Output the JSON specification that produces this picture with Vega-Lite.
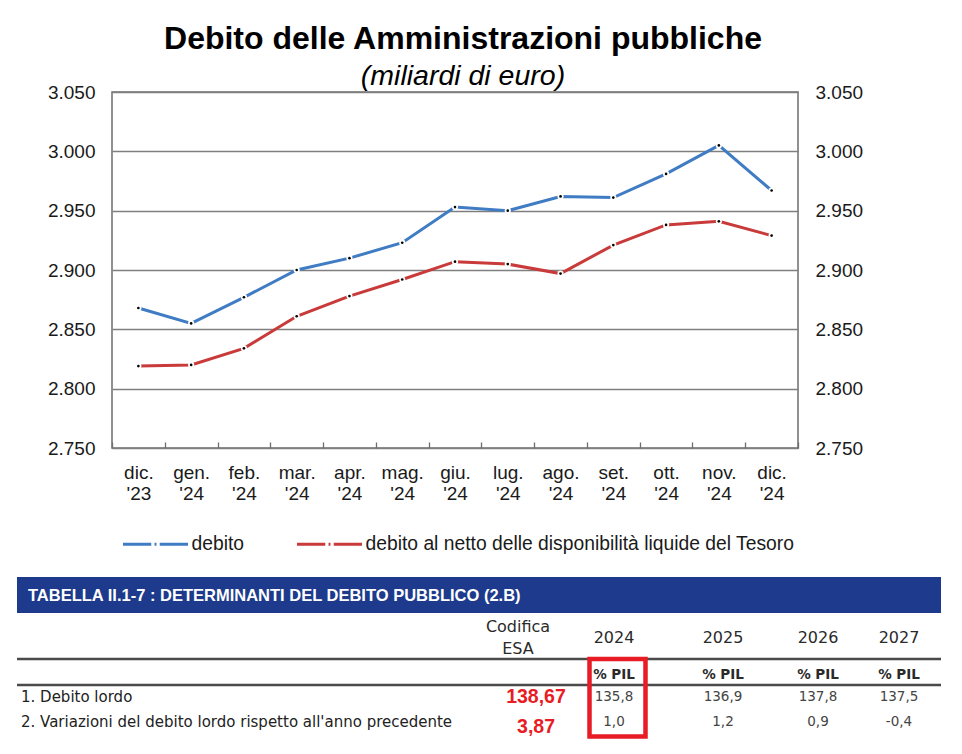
{
  "$schema": "https://vega.github.io/schema/vega-lite/v6.json",
  "background": "white",
  "padding": {"left": 15, "top": 21, "right": 0, "bottom": 0},
  "spacing": 73,
  "config": {
    "locale": {"number": {"decimal": ",", "thousands": ".", "grouping": [3], "currency": ["€", ""], "minus": "-"}},
    "font": "Liberation Sans",
    "view": {"stroke": "#6e6e6e", "strokeWidth": 1.5},
    "axis": {"labelFont": "Liberation Sans", "labelFontSize": 19, "labelColor": "#1a1a1a", "domain": false, "title": null}
  },
  "datasets": {
    "debito": [
      {"mese": "dic. '23", "serie": "debito", "valore": 2868},
      {"mese": "gen. '24", "serie": "debito", "valore": 2855},
      {"mese": "feb. '24", "serie": "debito", "valore": 2877},
      {"mese": "mar. '24", "serie": "debito", "valore": 2900},
      {"mese": "apr. '24", "serie": "debito", "valore": 2910},
      {"mese": "mag. '24", "serie": "debito", "valore": 2923},
      {"mese": "giu. '24", "serie": "debito", "valore": 2953},
      {"mese": "lug. '24", "serie": "debito", "valore": 2950},
      {"mese": "ago. '24", "serie": "debito", "valore": 2962},
      {"mese": "set. '24", "serie": "debito", "valore": 2961},
      {"mese": "ott. '24", "serie": "debito", "valore": 2981},
      {"mese": "nov. '24", "serie": "debito", "valore": 3005},
      {"mese": "dic. '24", "serie": "debito", "valore": 2967},
      {"mese": "dic. '23", "serie": "debito al netto delle disponibilità liquide del Tesoro", "valore": 2819},
      {"mese": "gen. '24", "serie": "debito al netto delle disponibilità liquide del Tesoro", "valore": 2820},
      {"mese": "feb. '24", "serie": "debito al netto delle disponibilità liquide del Tesoro", "valore": 2834},
      {"mese": "mar. '24", "serie": "debito al netto delle disponibilità liquide del Tesoro", "valore": 2861},
      {"mese": "apr. '24", "serie": "debito al netto delle disponibilità liquide del Tesoro", "valore": 2878},
      {"mese": "mag. '24", "serie": "debito al netto delle disponibilità liquide del Tesoro", "valore": 2892},
      {"mese": "giu. '24", "serie": "debito al netto delle disponibilità liquide del Tesoro", "valore": 2907},
      {"mese": "lug. '24", "serie": "debito al netto delle disponibilità liquide del Tesoro", "valore": 2905},
      {"mese": "ago. '24", "serie": "debito al netto delle disponibilità liquide del Tesoro", "valore": 2897},
      {"mese": "set. '24", "serie": "debito al netto delle disponibilità liquide del Tesoro", "valore": 2921},
      {"mese": "ott. '24", "serie": "debito al netto delle disponibilità liquide del Tesoro", "valore": 2938},
      {"mese": "nov. '24", "serie": "debito al netto delle disponibilità liquide del Tesoro", "valore": 2941},
      {"mese": "dic. '24", "serie": "debito al netto delle disponibilità liquide del Tesoro", "valore": 2929}
    ],
    "tabella": [
      {"tipo": "fascia", "col": 0, "col2": 9, "riga": 0, "riga2": 2},
      {"tipo": "linea", "col": 0, "col2": 9, "riga": 6},
      {"tipo": "linea", "col": 0, "col2": 9, "riga": 8},
      {"tipo": "riquadro", "col": 10, "col2": 11, "riga": 6, "riga2": 12},
      {"tipo": "titolo", "testo": "TABELLA II.1-7 : DETERMINANTI DEL DEBITO PUBBLICO (2.B)", "col": 2, "riga": 1},
      {"tipo": "intestazione", "testo": "Codifica", "col": 3, "riga": 3},
      {"tipo": "intestazione", "testo": "ESA", "col": 3, "riga": 5},
      {"tipo": "intestazione", "testo": "2024", "col": 5, "riga": 4},
      {"tipo": "intestazione", "testo": "2025", "col": 6, "riga": 4},
      {"tipo": "intestazione", "testo": "2026", "col": 7, "riga": 4},
      {"tipo": "intestazione", "testo": "2027", "col": 8, "riga": 4},
      {"tipo": "unita", "testo": "% PIL", "col": 5, "riga": 7},
      {"tipo": "unita", "testo": "% PIL", "col": 6, "riga": 7},
      {"tipo": "unita", "testo": "% PIL", "col": 7, "riga": 7},
      {"tipo": "unita", "testo": "% PIL", "col": 8, "riga": 7},
      {"tipo": "voce", "testo": "1. Debito lordo", "col": 1, "riga": 9},
      {"tipo": "voce", "testo": "2. Variazioni del debito lordo rispetto all'anno precedente", "col": 1, "riga": 10},
      {"tipo": "esa", "valore": 138.67, "col": 4, "riga": 9},
      {"tipo": "esa", "valore": 3.87, "col": 4, "riga": 11},
      {"tipo": "valore", "valore": 135.8, "col": 5, "riga": 9},
      {"tipo": "valore", "valore": 136.9, "col": 6, "riga": 9},
      {"tipo": "valore", "valore": 137.8, "col": 7, "riga": 9},
      {"tipo": "valore", "valore": 137.5, "col": 8, "riga": 9},
      {"tipo": "valore", "valore": 1.0, "col": 5, "riga": 10},
      {"tipo": "valore", "valore": 1.2, "col": 6, "riga": 10},
      {"tipo": "valore", "valore": 0.9, "col": 7, "riga": 10},
      {"tipo": "valore", "valore": -0.4, "col": 8, "riga": 10}
    ]
  },
  "vconcat": [
    {
      "width": 686,
      "height": 356,
      "title": {
        "text": "Debito delle Amministrazioni pubbliche",
        "subtitle": "(miliardi di euro)",
        "anchor": "middle",
        "frame": "group",
        "dx": 8,
        "offset": -8,
        "font": "Liberation Sans",
        "fontSize": 32,
        "fontWeight": "bold",
        "color": "#000000",
        "subtitleFont": "Liberation Sans",
        "subtitleFontSize": 28.5,
        "subtitleFontStyle": "italic",
        "subtitleColor": "#000000",
        "subtitlePadding": 6
      },
      "data": {"name": "debito"},
      "encoding": {
        "x": {
          "field": "mese",
          "type": "ordinal",
          "sort": null,
          "scale": {"type": "band", "paddingInner": 0, "paddingOuter": 0},
          "axis": {
            "labelAngle": 0,
            "labelExpr": "split(datum.label, ' ')",
            "labelLineHeight": 21,
            "labelPadding": 21,
            "ticks": true,
            "tickBand": "extent",
            "tickSize": -6,
            "tickColor": "#6e6e6e",
            "tickWidth": 1.3,
            "grid": false
          }
        }
      },
      "layer": [
        {
          "mark": {"type": "line", "strokeWidth": 3},
          "encoding": {
            "y": {
              "field": "valore",
              "type": "quantitative",
              "scale": {"domain": [2750, 3050], "nice": false, "zero": false},
              "axis": {
                "orient": "left",
                "values": [2750, 2800, 2850, 2900, 2950, 3000, 3050],
                "format": ",.0f",
                "ticks": false,
                "labelPadding": 17,
                "minExtent": 95,
                "grid": true,
                "gridColor": "#7f7f7f",
                "gridWidth": 1.5
              }
            },
            "color": {
              "field": "serie",
              "type": "nominal",
              "scale": {
                "domain": ["debito", "debito al netto delle disponibilità liquide del Tesoro"],
                "range": ["#3f7cc4", "#c93a3a"]
              },
              "legend": {
                "orient": "none",
                "legendX": 9.5,
                "legendY": 418,
                "direction": "horizontal",
                "title": null,
                "symbolType": "M-1,0H-0.13M0.13,0H1M-0.03,0H0.03",
                "symbolStrokeWidth": 3,
                "symbolSize": 4225,
                "labelFont": "Liberation Sans",
                "labelFontSize": 19.3,
                "labelColor": "#1a1a1a",
                "labelOffset": 2,
                "labelLimit": 600,
                "columnPadding": 46
              }
            }
          }
        },
        {
          "mark": {"type": "circle", "color": "white", "size": 38, "opacity": 1},
          "encoding": {
            "y": {
              "field": "valore",
              "type": "quantitative",
              "scale": {"domain": [2750, 3050], "nice": false, "zero": false},
              "axis": null
            }
          }
        },
        {
          "mark": {"type": "circle", "color": "#000000", "size": 7, "opacity": 1},
          "encoding": {
            "y": {
              "field": "valore",
              "type": "quantitative",
              "scale": {"domain": [2750, 3050], "nice": false, "zero": false},
              "axis": {
                "orient": "right",
                "values": [2750, 2800, 2850, 2900, 2950, 3000, 3050],
                "format": ",.0f",
                "ticks": false,
                "labelPadding": 17,
                "grid": false
              }
            }
          }
        }
      ],
      "resolve": {"scale": {"y": "independent"}}
    },
    {
      "width": 829,
      "height": 162,
      "view": {"stroke": null},
      "data": {"name": "tabella"},
      "encoding": {
        "x": {
          "field": "col",
          "type": "quantitative",
          "axis": null,
          "scale": {
            "domain": [0, 1, 2, 3, 4, 5, 6, 7, 8, 9, 10, 11],
            "range": [-95, -91, -84, 406, 424, 502, 611, 706, 787, 829, 477.5, 533.5],
            "nice": false,
            "zero": false
          }
        },
        "y": {
          "field": "riga",
          "type": "quantitative",
          "axis": null,
          "scale": {
            "domain": [0, 1, 2, 3, 4, 5, 6, 7, 8, 9, 10, 11, 12],
            "range": [0, 18.5, 36, 50, 61, 72, 82, 98, 108, 119.5, 144.5, 150, 159.5],
            "nice": false,
            "zero": false
          }
        }
      },
      "layer": [
        {
          "transform": [{"filter": "datum.tipo === 'fascia'"}],
          "mark": {"type": "rect", "color": "#1e3a8c"},
          "encoding": {"x2": {"field": "col2"}, "y2": {"field": "riga2"}}
        },
        {
          "transform": [{"filter": "datum.tipo === 'linea'"}],
          "mark": {"type": "rule", "color": "#4a4a4a", "strokeWidth": 2.5},
          "encoding": {"x2": {"field": "col2"}}
        },
        {
          "transform": [{"filter": "datum.tipo === 'titolo'"}],
          "mark": {"type": "text", "align": "left", "baseline": "middle", "color": "white", "font": "Liberation Sans", "fontSize": 16.5, "fontWeight": "bold"},
          "encoding": {"text": {"field": "testo"}}
        },
        {
          "transform": [{"filter": "datum.tipo === 'intestazione'"}],
          "mark": {"type": "text", "align": "center", "baseline": "middle", "color": "#2a2a2a", "font": "DejaVu Sans", "fontSize": 16},
          "encoding": {"text": {"field": "testo"}}
        },
        {
          "transform": [{"filter": "datum.tipo === 'unita'"}],
          "mark": {"type": "text", "align": "center", "baseline": "middle", "color": "#2a2a2a", "font": "DejaVu Sans", "fontSize": 13.5, "fontWeight": "bold"},
          "encoding": {"text": {"field": "testo"}}
        },
        {
          "transform": [{"filter": "datum.tipo === 'voce'"}],
          "mark": {"type": "text", "align": "left", "baseline": "middle", "color": "#222222", "font": "DejaVu Sans", "fontSize": 15},
          "encoding": {"text": {"field": "testo"}}
        },
        {
          "transform": [{"filter": "datum.tipo === 'valore'"}],
          "mark": {"type": "text", "align": "center", "baseline": "middle", "color": "#444444", "font": "DejaVu Sans", "fontSize": 13.5},
          "encoding": {"text": {"field": "valore", "type": "quantitative", "format": ".1f"}}
        },
        {
          "transform": [{"filter": "datum.tipo === 'esa'"}],
          "mark": {"type": "text", "align": "center", "baseline": "middle", "color": "#e81c24", "font": "Liberation Sans", "fontSize": 19.5, "fontWeight": "bold"},
          "encoding": {"text": {"field": "valore", "type": "quantitative", "format": ".2f"}}
        },
        {
          "transform": [{"filter": "datum.tipo === 'riquadro'"}],
          "mark": {"type": "rect", "fill": null, "fillOpacity": 0, "stroke": "#e81c24", "strokeWidth": 4.5},
          "encoding": {"x2": {"field": "col2"}, "y2": {"field": "riga2"}}
        }
      ]
    }
  ]
}
